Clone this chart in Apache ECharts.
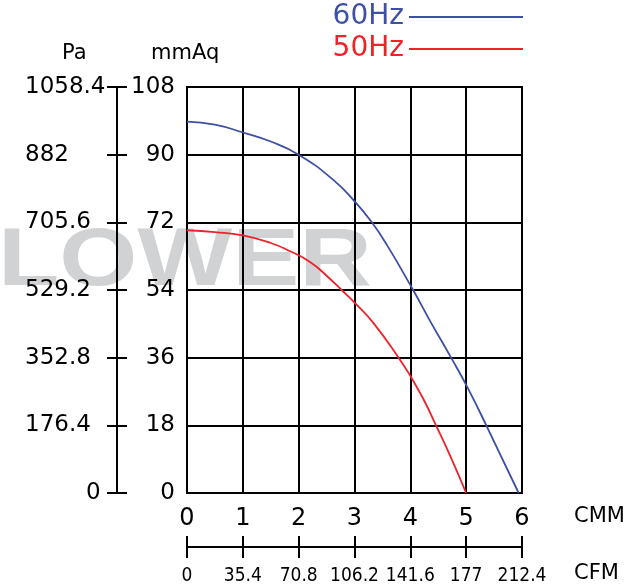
<!DOCTYPE html>
<html>
<head>
    <meta charset="UTF-8"/>
    <title>fan curve</title>
    <script type="text/javascript" src="https://cdn.jsdelivr.net/npm/echarts@6/dist/echarts.min.js"></script>
    <style>
        html, body { margin: 0; padding: 0; background: #fff; }
        #chart { width: 635px; height: 587px; }
    </style>
</head>
<body>
<div id="chart"></div>
<script>
    // 60Hz curve, CMM / mmAq
    var flow60 = [0, 0.5, 1, 1.5, 2, 2.62, 3, 3.31, 3.58, 4.05, 4.36, 4.73, 5.03, 5.36, 5.94];
    var pressure60 = [98.8, 98.0, 95.9, 93.5, 90.0, 83.3, 77.6, 72, 66.0, 54, 45.6, 36, 27.9, 18, 0];
    // 50Hz curve
    var flow50 = [0, 0.5, 1, 1.5, 1.85, 2.21, 2.5, 2.77, 3.01, 3.34, 3.79, 4.03, 4.24, 4.46, 4.72, 5];
    var pressure50 = [69.9, 69.4, 68.5, 66.5, 64.3, 61.4, 57.8, 54, 50.5, 45.2, 36, 30.4, 24.8, 18, 9.7, 0];
    // tick labels of the secondary axes
    var paLabels = ['0', '176.4', '352.8', '529.2', '705.6', '882', '1058.4'];
    var cfmLabels = ['0', '35.4', '70.8', '106.2', '141.6', '177', '212.4'];

    var blue = '#3d50a3';
    var red = '#ee2229';
    var font = 'DejaVu Sans';

    function pairs(xs, ys) {
        var out = [];
        for (var i = 0; i < xs.length; i++) out.push([xs[i], ys[i]]);
        return out;
    }
    function label(txt, x, y) {
        return {type: 'text', x: x, y: y,
            style: {text: txt, fill: '#000', fontSize: 21, fontFamily: font, verticalAlign: 'middle'}};
    }

    var axisLine = {show: true, onZero: false, lineStyle: {color: '#000', width: 2}};
    var chart = echarts.init(document.getElementById('chart'));
    var option = {
        animation: false,
        backgroundColor: '#fff',
        graphic: [
            {type: 'text', x: -2, y: 263, z: -10, scaleX: 1.24,
                style: {text: 'LOWER', fill: '#d1d2d4', fontSize: 81, fontWeight: 'bold',
                    fontFamily: 'Liberation Sans', verticalAlign: 'middle'}},
            label('Pa', 62, 54),
            label('mmAq', 151, 54),
            label('CMM', 574, 517),
            label('CFM', 574, 574)
        ],
        legend: {
            orient: 'vertical',
            right: 112,
            top: 3,
            padding: 0,
            align: 'right',
            icon: 'rect',
            itemWidth: 114,
            itemHeight: 2,
            itemGap: 4,
            data: [
                {name: '60Hz', textStyle: {color: blue}},
                {name: '50Hz', textStyle: {color: red}}
            ],
            textStyle: {fontFamily: font, fontSize: 28}
        },
        grid: {left: 187, right: 113, top: 87, bottom: 94, show: true, borderColor: '#000', borderWidth: 2},
        xAxis: [
            {
                type: 'value', min: 0, max: 6, interval: 1, position: 'bottom',
                axisLine: axisLine, axisTick: {show: false},
                splitLine: {show: true, lineStyle: {color: '#000', width: 2}},
                axisLabel: {fontFamily: font, fontSize: 24, color: '#000', margin: 14}
            },
            {
                type: 'value', min: 0, max: 6, interval: 1, position: 'bottom', offset: 54,
                axisLine: axisLine,
                axisTick: {show: true, length: 11, lineStyle: {color: '#000', width: 2}},
                splitLine: {show: false},
                axisLabel: {
                    fontFamily: '"DejaVu Sans Condensed", "DejaVu Sans"', fontSize: 19, color: '#000', margin: 20,
                    formatter: function (v) { return cfmLabels[Math.round(v)]; }
                }
            },
            {
                type: 'value', min: 0, max: 6, interval: 1, position: 'bottom', offset: 54,
                axisLine: axisLine,
                axisTick: {show: true, inside: true, length: 11, lineStyle: {color: '#000', width: 2}},
                splitLine: {show: false}, axisLabel: {show: false}
            }
        ],
        yAxis: [
            {
                type: 'value', min: 0, max: 108, interval: 18, position: 'left',
                axisLine: axisLine, axisTick: {show: false},
                splitLine: {show: true, lineStyle: {color: '#000', width: 2}},
                axisLabel: {fontFamily: font, fontSize: 23, color: '#000', margin: 12}
            },
            {
                type: 'value', min: 0, max: 108, interval: 18, position: 'left', offset: 70,
                axisLine: axisLine,
                axisTick: {show: true, length: 10, lineStyle: {color: '#000', width: 2}},
                splitLine: {show: false},
                axisLabel: {
                    fontFamily: font, fontSize: 23, color: '#000', margin: 92, align: 'left',
                    formatter: function (v) {
                        var s = paLabels[Math.round(v / 18)];
                        return v === 0 ? '{z|' + s + '}' : s;
                    },
                    rich: {z: {fontFamily: font, fontSize: 23, color: '#000', padding: [0, 0, 0, 61]}}
                }
            },
            {
                type: 'value', min: 0, max: 108, interval: 18, position: 'left', offset: 70,
                axisLine: axisLine,
                axisTick: {show: true, inside: true, length: 10, lineStyle: {color: '#000', width: 2}},
                splitLine: {show: false}, axisLabel: {show: false}
            }
        ],
        series: [
            {
                name: '60Hz', type: 'line', xAxisIndex: 0, yAxisIndex: 0,
                data: pairs(flow60, pressure60),
                smooth: 0.5, showSymbol: false, symbol: 'none',
                lineStyle: {color: blue, width: 1.8}, itemStyle: {color: blue}, z: 5
            },
            {
                name: '50Hz', type: 'line', xAxisIndex: 0, yAxisIndex: 0,
                data: pairs(flow50, pressure50),
                smooth: 0.5, showSymbol: false, symbol: 'none',
                lineStyle: {color: red, width: 1.8}, itemStyle: {color: red}, z: 5
            }
        ]
    };
    chart.setOption(option);
</script>
</body>
</html>
